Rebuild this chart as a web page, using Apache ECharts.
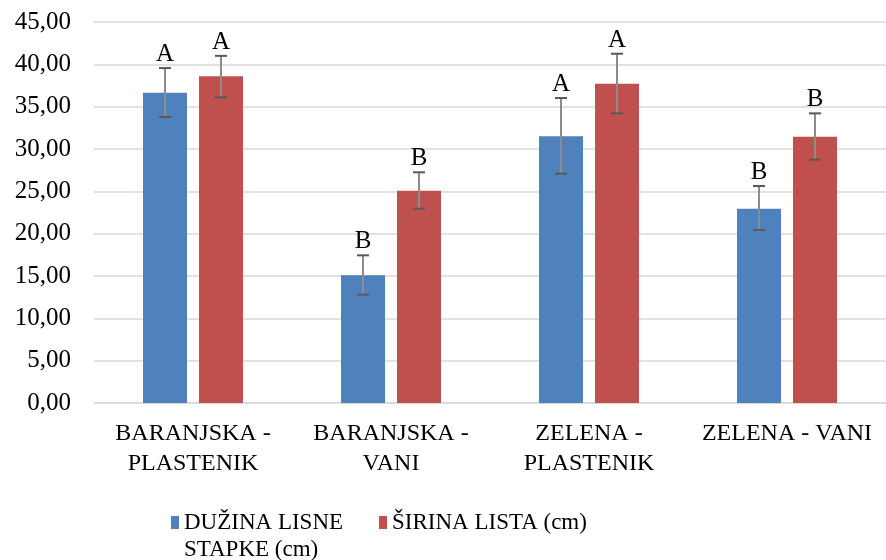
<!DOCTYPE html>
<html><head><meta charset="utf-8">
<script src="https://cdn.jsdelivr.net/npm/echarts@6/dist/echarts.min.js"></script>
<style>html,body{margin:0;padding:0;background:#fff}#c{width:886px;height:560px}</style>
</head><body><div id="c"></div>
<script>
const categories = ['BARANJSKA -\nPLASTENIK', 'BARANJSKA -\nVANI', 'ZELENA -\nPLASTENIK', 'ZELENA - VANI'];
const seriesNames = ['DUŽINA LISNE\nSTAPKE (cm)', 'ŠIRINA LISTA (cm)'];
const duzina = [36.65, 15.08, 31.50, 22.95];
const duzinaLow = [33.78, 12.79, 27.08, 20.43];
const duzinaHigh = [39.56, 17.44, 36.02, 25.63];
const sirina = [38.58, 25.07, 37.71, 31.45];
const sirinaLow = [36.10, 22.95, 34.21, 28.74];
const sirinaHigh = [41.00, 27.25, 41.25, 34.21];
const duzinaLetters = ['A', 'B', 'A', 'B'];
const sirinaLetters = ['A', 'B', 'A', 'B'];
const yMin = 0, yMax = 45, yStep = 5;

const FONT = 'Liberation Serif, Times New Roman, serif';
const BAR_W = 44, BAR_GAP = 12;

function errorSeries(low, high, letters, side) {
  return {
    type: 'custom',
    name: 'err' + side,
    z: 5,
    data: categories.map((c, i) => [i, low[i], high[i]]),
    encode: { x: 0, y: [1, 2] },
    renderItem: function (params, api) {
      const i = api.value(0);
      const lo = api.coord([i, api.value(1)]);
      const hi = api.coord([i, api.value(2)]);
      const x = lo[0] + side * (BAR_W + BAR_GAP) / 2;
      const cap = 6;
      return {
        type: 'group',
        children: [
          { type: 'line', shape: { x1: x, y1: hi[1], x2: x, y2: lo[1] }, style: { stroke: '#8c8c8c', lineWidth: 2 } },
          { type: 'line', shape: { x1: x - cap, y1: hi[1], x2: x + cap, y2: hi[1] }, style: { stroke: '#595959', lineWidth: 2 } },
          { type: 'line', shape: { x1: x - cap, y1: lo[1], x2: x + cap, y2: lo[1] }, style: { stroke: '#595959', lineWidth: 2 } },
          { type: 'text', x: x, y: hi[1] - 1, style: { text: letters[params.dataIndex], fill: '#000', font: '25px ' + FONT, align: 'center', verticalAlign: 'bottom' } }
        ]
      };
    }
  };
}

const chart = echarts.init(document.getElementById('c'), null, { renderer: 'canvas' });
chart.setOption({
  animation: false,
  backgroundColor: '#fff',
  grid: { left: 94, right: 0, top: 22, bottom: 157, containLabel: false, outerBoundsMode: 'none' },
  legend: [
    {
      data: [seriesNames[0]], left: 166, top: 504, itemWidth: 8, itemHeight: 40,
      icon: 'path://M0 0H8V13H0ZM0 40H8V40Z',
      textStyle: { fontFamily: FONT, fontSize: 23, color: '#000', lineHeight: 27 }
    },
    {
      data: [seriesNames[1]], left: 374, top: 504, itemWidth: 8, itemHeight: 13, icon: 'rect',
      textStyle: { fontFamily: FONT, fontSize: 23, color: '#000', lineHeight: 27 }
    }
  ],
  xAxis: {
    type: 'category', data: categories,
    axisLine: { lineStyle: { color: '#d9d9d9', width: 1.5 } },
    axisTick: { show: false },
    axisLabel: { fontFamily: FONT, fontSize: 24, color: '#000', lineHeight: 30, margin: 16, interval: 0 }
  },
  yAxis: {
    type: 'value', min: yMin, max: yMax, interval: yStep,
    axisLine: { show: false }, axisTick: { show: false },
    splitLine: { lineStyle: { color: '#d9d9d9', width: 1.5 } },
    axisLabel: {
      fontFamily: FONT, fontSize: 25, color: '#000', margin: 23,
      formatter: v => v.toFixed(2).replace('.', ',')
    }
  },
  series: [
    { type: 'bar', name: seriesNames[0], data: duzina, barWidth: BAR_W, barGap: (BAR_GAP / BAR_W * 100) + '%', itemStyle: { color: '#4F81BD' } },
    { type: 'bar', name: seriesNames[1], data: sirina, barWidth: BAR_W, itemStyle: { color: '#C0504D' } },
    errorSeries(duzinaLow, duzinaHigh, duzinaLetters, -1),
    errorSeries(sirinaLow, sirinaHigh, sirinaLetters, 1)
  ]
});
</script>
</body></html>
